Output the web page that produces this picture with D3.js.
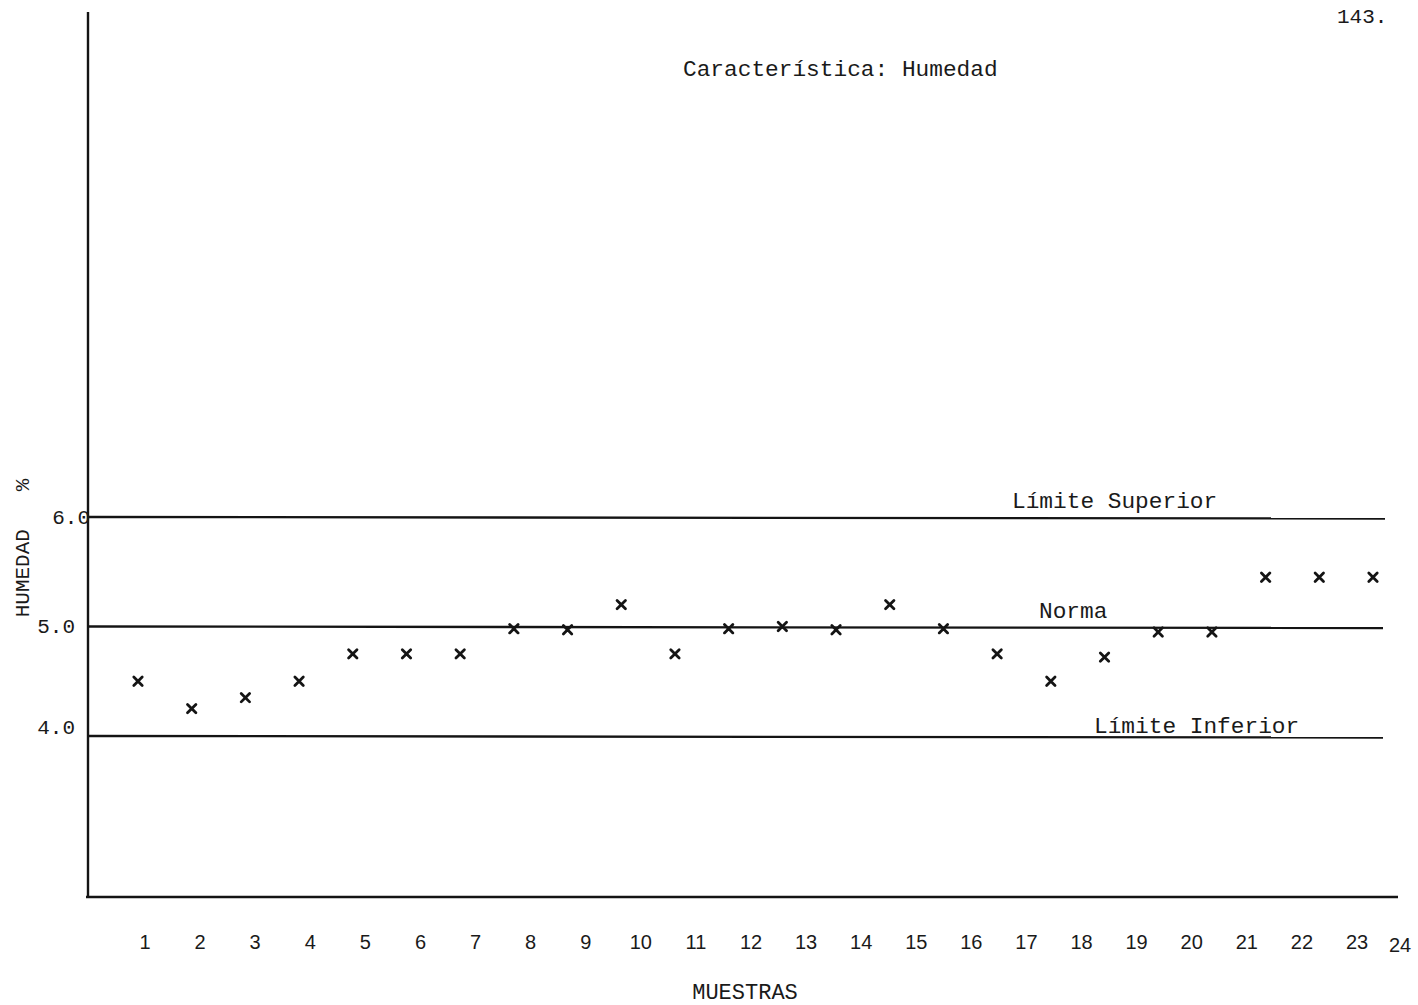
<!DOCTYPE html>
<html>
<head>
<meta charset="utf-8">
<script src="https://cdn.jsdelivr.net/npm/d3@7"></script>
<style>
  html, body { margin: 0; padding: 0; background: #fff; }
  svg { display: block; }
  .mono { font-family: "Liberation Mono", "DejaVu Sans Mono", monospace; fill: #1a1a1a; }
  .sans { font-family: "Liberation Sans", Arial, sans-serif; fill: #1a1a1a; }
</style>
</head>
<body>
<svg id="chart" width="1418" height="1005"></svg>
<script>
// Moisture samples (Humedad %), one per sample number
const samples = d3.range(1, 25);
const humedad = [4.5, 4.25, 4.35, 4.5, 4.75, 4.75, 4.75, 4.98, 4.97, 5.2, 4.75, 4.98,
                 5.0, 4.97, 5.2, 4.98, 4.75, 4.5, 4.72, 4.95, 4.95, 5.45, 5.45, 5.45];

// Control limits and reference line
const limits = [
  { value: 6.0, label: "Límite Superior" },
  { value: 5.0, label: "Norma" },
  { value: 4.0, label: "Límite Inferior" }
];
const yTickLabels = ["6.0", "5.0", "4.0"];

const svg = d3.select("#chart");
const ink = "#141414";

// Scales
const y = d3.scaleLinear().domain([4, 6]).range([736, 517]);
const xPts = d3.scaleLinear().domain([1, 24]).range([138, 1373]);
const xLab = d3.scaleLinear().domain([1, 23, 24]).range([145, 1357, 1400]);

const g = svg.append("g");

// Axes frame
g.append("line").attr("x1", 88).attr("x2", 88).attr("y1", 12).attr("y2", 898)
  .attr("stroke", ink).attr("stroke-width", 2.4);
g.append("line").attr("x1", 86).attr("x2", 1398).attr("y1", 897).attr("y2", 897)
  .attr("stroke", ink).attr("stroke-width", 2.4);

// Limit lines
const limitEnds = [1385, 1383, 1383];
g.selectAll("line.limit").data(limits).join("line")
  .attr("class", "limit")
  .attr("x1", 88).attr("x2", (d, i) => limitEnds[i])
  .attr("y1", d => y(d.value)).attr("y2", d => y(d.value) + 1.5)
  .attr("stroke", ink).attr("stroke-width", 2.3);

// Limit labels
const limitLabelX = [1012, 1039, 1094];
const limitLabelDy = [-9, -9, -3];
g.selectAll("text.limitlab").data(limits).join("text")
  .attr("class", "mono limitlab")
  .attr("x", (d, i) => limitLabelX[i])
  .attr("y", (d, i) => y(d.value) + limitLabelDy[i])
  .attr("font-size", 22.8)
  .text(d => d.label);

// Y tick labels
const yLabX = [90, 75, 75];
const yLabDy = [7, 6, -2];
g.selectAll("text.ytick").data(limits).join("text")
  .attr("class", "mono ytick")
  .attr("x", (d, i) => yLabX[i])
  .attr("y", (d, i) => y(d.value) + yLabDy[i])
  .attr("text-anchor", "end")
  .attr("font-size", 21)
  .text((d, i) => yTickLabels[i]);

// X tick labels
g.selectAll("text.xtick").data(samples).join("text")
  .attr("class", "sans xtick")
  .attr("x", d => xLab(d))
  .attr("y", d => d === 24 ? 952 : 949)
  .attr("text-anchor", "middle")
  .attr("font-size", 20)
  .text(d => d);

// Sample markers (typed x marks)
const s = 4.2;
g.selectAll("path.mark").data(humedad).join("path")
  .attr("class", "mark")
  .attr("transform", (d, i) => `translate(${xPts(samples[i])},${y(d)})`)
  .attr("d", `M${-s},${-s}L${s},${s}M${-s},${s}L${s},${-s}`)
  .attr("stroke", ink).attr("stroke-width", 2.8).attr("stroke-linecap", "round")
  .attr("fill", "none");

// Titles
g.append("text").attr("class", "mono").attr("x", 683).attr("y", 76)
  .attr("font-size", 22.8).text("Característica: Humedad");
g.append("text").attr("class", "mono").attr("x", 1337).attr("y", 23)
  .attr("font-size", 21).text("143.");
g.append("text").attr("class", "mono").attr("x", 745).attr("y", 999)
  .attr("text-anchor", "middle").attr("font-size", 22).text("MUESTRAS");
g.append("text").attr("class", "mono")
  .attr("transform", "translate(29,548) rotate(-90)")
  .attr("text-anchor", "middle").attr("font-size", 21)
  .attr("xml:space", "preserve")
  .text("HUMEDAD   %");
</script>
</body>
</html>
